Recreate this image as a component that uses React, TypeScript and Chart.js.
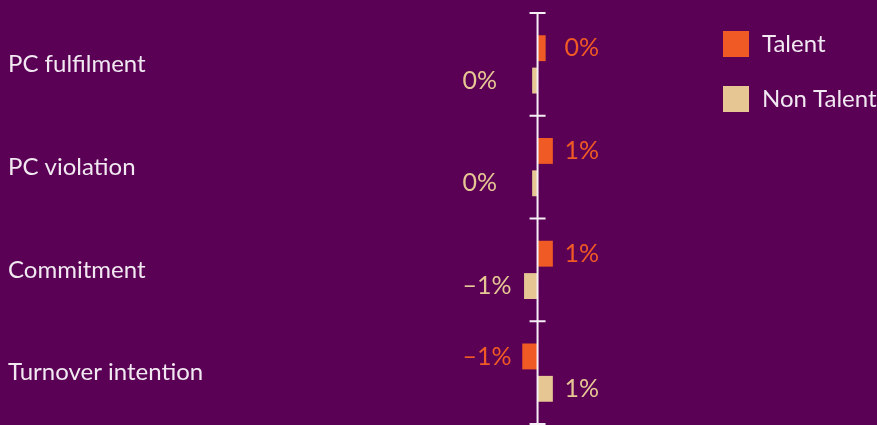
import React, { useEffect, useRef } from "react";
import { Chart, registerables } from "chart.js";

Chart.register(...registerables);

// Change in each measure, in percentage points
const categories = ["PC fulfilment", "PC violation", "Commitment", "Turnover intention"];
const talentValues = [0.45, 0.85, 0.85, -0.85];
const nonTalentValues = [-0.3, -0.3, -0.75, 0.85];
const seriesNames = ["Talent", "Non Talent"];

const BG = "#5a0055";
const ORANGE = "#f05a24";
const BEIGE = "#e6c794";
const TEXT = "#f1e8f1";
const FONT = "Lato, 'Open Sans', sans-serif";

const fmtPct = (v: number) => {
  const r = Math.round(v);
  if (r === 0) return "0%";
  return (r < 0 ? "\u2013" : "") + Math.abs(r) + "%";
};

// Vertical zero axis with short cross ticks between the categories
const zeroAxisPlugin = {
  id: "zeroAxis",
  afterDatasetsDraw(chart: any) {
    const { ctx, chartArea, scales } = chart;
    const x0 = scales.x.getPixelForValue(0);
    ctx.save();
    ctx.strokeStyle = "#f6f0f6";
    ctx.lineWidth = 2;
    ctx.beginPath();
    ctx.moveTo(x0, chartArea.top);
    ctx.lineTo(x0, chartArea.bottom);
    ctx.stroke();
    for (let i = 0; i <= categories.length; i++) {
      const y = scales.y.getPixelForValue(i - 0.5);
      ctx.beginPath();
      ctx.moveTo(x0 - 8, y);
      ctx.lineTo(x0 + 8, y);
      ctx.stroke();
    }
    ctx.restore();
  },
};

// Rounded value labels beside each bar, in the bar's colour
const valueLabelPlugin = {
  id: "valueLabels",
  afterDatasetsDraw(chart: any) {
    const { ctx, scales } = chart;
    const x0 = scales.x.getPixelForValue(0);
    ctx.save();
    ctx.font = `25px ${FONT}`;
    ctx.textBaseline = "middle";
    ctx.textAlign = "left";
    chart.data.datasets.forEach((ds: any, di: number) => {
      const meta = chart.getDatasetMeta(di);
      ctx.fillStyle = ds.backgroundColor;
      meta.data.forEach((el: any, i: number) => {
        const v = ds.data[i] as number;
        const x = v >= 0 ? x0 + 27 : x0 - 75;
        ctx.fillText(fmtPct(v), x, el.y);
      });
    });
    ctx.restore();
  },
};

// Legend in the top-right corner
const legendPlugin = {
  id: "sideLegend",
  afterDraw(chart: any) {
    const { ctx } = chart;
    const colors = [ORANGE, BEIGE];
    ctx.save();
    ctx.font = `24px ${FONT}`;
    ctx.textBaseline = "middle";
    ctx.textAlign = "left";
    seriesNames.forEach((name, i) => {
      const top = 31 + i * 55;
      ctx.fillStyle = colors[i];
      ctx.fillRect(723, top, 26, 26);
      ctx.fillStyle = TEXT;
      ctx.fillText(name, 762, top + 13);
    });
    ctx.restore();
  },
};

export default function App() {
  const canvasRef = useRef<HTMLCanvasElement | null>(null);

  useEffect(() => {
    if (!canvasRef.current) return;
    const chart = new Chart(canvasRef.current, {
      type: "bar",
      data: {
        labels: categories,
        datasets: [
          {
            label: seriesNames[0],
            data: talentValues,
            backgroundColor: ORANGE,
            barPercentage: 0.8,
            categoryPercentage: 0.63,
          },
          {
            label: seriesNames[1],
            data: nonTalentValues,
            backgroundColor: BEIGE,
            barPercentage: 0.8,
            categoryPercentage: 0.63,
          },
        ],
      },
      options: {
        indexAxis: "y",
        responsive: false,
        animation: false,
        layout: { padding: { top: 13, bottom: 16, left: 8, right: 0 } },
        plugins: {
          legend: { display: false },
          tooltip: { enabled: false },
        },
        scales: {
          x: {
            display: false,
            min: -18.31,
            max: 18.86,
          },
          y: {
            type: "category",
            grid: { display: false },
            border: { display: false },
            ticks: {
              color: TEXT,
              font: { family: FONT, size: 24, lineHeight: 1 },
              crossAlign: "far",
              padding: 0,
            },
            afterFit(scale: any) {
              scale.width = 200;
            },
          },
        },
      },
      plugins: [zeroAxisPlugin, valueLabelPlugin, legendPlugin],
    } as any);
    return () => chart.destroy();
  }, []);

  return (
    <div
      style={{
        position: "fixed",
        left: 0,
        top: 0,
        width: 877,
        height: 425,
        background: BG,
        overflow: "hidden",
      }}
    >
      <canvas ref={canvasRef} width={877} height={440} style={{ display: "block" }} />
    </div>
  );
}
